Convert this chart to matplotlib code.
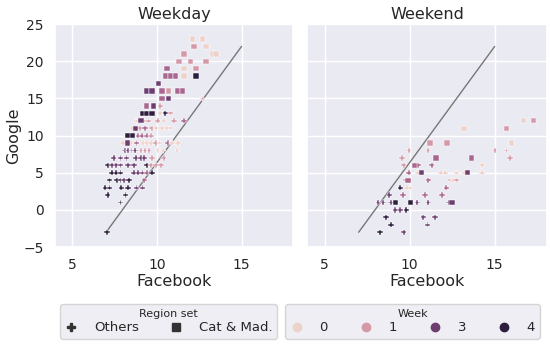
import numpy as np
import matplotlib
matplotlib.use("Agg")
from matplotlib import pyplot as plt
from matplotlib.lines import Line2D
import seaborn as sns

sns.set_theme(style="darkgrid")
plt.rcParams['font.family'] = ['DejaVu Sans']

# Weekday panel: Facebook vs Google, week number, region set
wd_fb = [12.1, 12.7, 12.2, 12.9, 11.6, 13.3, 13.5, 11.3, 12.0, 12.9,
         10.6, 11.6, 12.3, 10.5, 10.8, 11.1, 11.6, 12.3, 10.1,
         9.4, 9.7, 10.3, 10.7, 11.2, 11.5, 10.3, 10.7, 12.7,
         9.4, 9.8, 10.2, 9.15, 9.4, 9.7, 10.2, 10.5, 10.8,
         8.8, 9.05, 9.2, 9.5, 10.05, 10.4, 11.0, 11.6,
         8.55, 8.75, 9.0, 9.3, 9.7, 9.95, 10.3, 10.6, 10.8,
         8.3, 8.55, 8.9, 9.1, 9.4, 9.65,
         8.0, 8.25, 8.45, 8.8, 9.2, 9.4, 9.65, 9.95, 10.15, 10.65, 10.9, 11.25,
         8.1, 8.3, 8.5, 8.7, 9.05, 9.3, 9.55, 10.05, 10.35, 11.2,
         7.45, 7.85, 8.2, 8.75, 9.05, 9.25, 9.7, 10.4,
         7.1, 7.35, 7.6, 7.85, 8.3, 8.65, 9.4, 9.65, 9.95, 10.25,
         7.35, 7.6, 7.85, 8.65, 8.9, 9.15, 9.4, 9.7,
         7.2, 7.65, 7.85, 8.05, 8.35, 9.25,
         6.95, 7.2, 7.9, 8.3, 8.8, 9.15,
         7.1, 8.15, 7.85, 7.05]
wd_google = [23, 23, 22, 22, 21, 21, 21, 20, 20, 20,
             19, 19, 19, 18, 18, 18, 18, 18, 17,
             16, 16, 16, 16, 16, 16, 15, 15, 15,
             14, 14, 14, 13, 13, 13, 13, 13, 13,
             12, 12, 12, 12, 12, 12, 12, 12,
             11, 11, 11, 11, 11, 11, 11, 11, 11,
             10, 10, 10, 10, 10, 10,
             9, 9, 9, 9, 9, 9, 9, 9, 9, 9, 9, 9,
             8, 8, 8, 8, 8, 8, 8, 8, 8, 8,
             7, 7, 7, 7, 7, 7, 7, 7,
             6, 6, 6, 6, 6, 6, 6, 6, 6, 6,
             5, 5, 5, 5, 5, 5, 5, 5,
             4, 4, 4, 4, 4, 4,
             3, 3, 3, 3, 3, 3,
             2, 2, 1, -3]
wd_week = [0, 0, 1, 0, 1, 0, 0, 1, 1, 1,
           2, 0, 1, 2, 2, 2, 0, 4, 3,
           3, 3, 2, 1, 2, 2, 2, 3, 1,
           2, 3, 1, 4, 4, 4, 0, 4, 1,
           0, 3, 1, 1, 1, 0, 1, 2,
           0, 3, 1, 2, 1, 0, 0, 0, 0,
           4, 4, 2, 2, 2, 1,
           0, 3, 0, 2, 0, 0, 0, 1, 0, 2, 0, 0,
           3, 3, 2, 3, 1, 1, 1, 0, 0, 0,
           3, 3, 3, 3, 3, 3, 1, 1,
           4, 3, 3, 3, 3, 3, 4, 1, 1, 1,
           4, 4, 4, 3, 3, 3, 2, 4,
           4, 4, 4, 3, 4, 2,
           4, 4, 4, 4, 3, 3,
           4, 4, 4, 4]
wd_region = (["Cat & Mad."] * 27 + ["Others"] +
             ["Cat & Mad."] * 2 + ["Others"] +
             ["Cat & Mad."] * 3 + ["Others"] * 3 +
             ["Others", "Cat & Mad."] + ["Others"] * 6 +
             ["Others", "Cat & Mad."] + ["Others"] * 7 +
             ["Cat & Mad."] * 2 + ["Others"] * 4 +
             ["Others", "Cat & Mad."] + ["Others"] * 10 +
             ["Others"] * 10 + ["Others"] * 8 + ["Others"] * 10 +
             ["Others"] * 8 + ["Others"] * 6 + ["Others"] * 6 +
             ["Others"] * 4)

# Weekend panel
we_fb = [16.7, 17.3, 13.2, 15.7, 11.2, 12.2, 16.0,
         9.95, 11.1, 15.0, 15.7,
         9.55, 11.55, 13.65, 15.9,
         9.65, 10.3, 10.5, 11.3, 14.25,
         9.95, 10.5, 10.7, 11.85, 12.1, 12.75, 13.25, 13.4, 14.25,
         9.75, 9.9, 11.1, 12.4, 12.55, 12.75,
         9.45, 9.85, 10.05, 12.15,
         8.8, 9.6, 10.9, 11.9,
         8.15, 8.45, 8.9, 9.15, 10.05, 10.45, 11.1, 12.3, 12.5,
         9.15, 9.45, 9.8,
         8.6, 10.8, 11.5,
         8.9, 11.05,
         8.25, 9.65]
we_google = [12, 12, 11, 11, 9, 9, 9,
             8, 8, 8, 8,
             7, 7, 7, 7,
             6, 6, 6, 6, 6,
             5, 5, 5, 5, 5, 5, 5, 5, 5,
             4, 4, 4, 4, 4, 4,
             3, 3, 3, 3,
             2, 2, 2, 2,
             1, 1, 1, 1, 1, 1, 1, 1, 1,
             0, 0, 0,
             -1, -1, -1,
             -2, -2,
             -3, -3]
we_week = [0, 1, 0, 1, 1, 1, 0,
           1, 1, 1, 1,
           1, 2, 2, 1,
           1, 2, 2, 2, 0,
           2, 0, 3, 0, 0, 0, 0, 3, 0,
           1, 2, 2, 1, 0, 1,
           4, 0, 0, 2,
           3, 2, 2, 2,
           3, 3, 3, 4, 4, 3, 3, 3, 3,
           3, 3, 4,
           4, 3, 3,
           4, 3,
           4, 3]
we_region = (["Cat & Mad."] * 7 + ["Others"] * 4 +
             ["Others", "Cat & Mad.", "Cat & Mad.", "Others"] +
             ["Others", "Cat & Mad.", "Others", "Others", "Others"] +
             ["Others", "Others", "Cat & Mad.", "Others", "Others", "Others", "Others", "Cat & Mad.", "Others"] +
             ["Others", "Cat & Mad.", "Others", "Others", "Others", "Others"] +
             ["Others"] * 4 + ["Others"] * 4 +
             ["Others", "Others", "Others", "Cat & Mad.", "Cat & Mad.", "Others", "Others", "Others", "Cat & Mad."] +
             ["Others"] * 3 + ["Others"] * 3 + ["Others"] * 2 + ["Others"] * 2)

diag_x = [7, 15]
diag_y = [-3, 22]
legend_weeks = [0, 1, 3, 4]

cmap = sns.cubehelix_palette(as_cmap=True)
norm = matplotlib.colors.Normalize(0, 4)
markers = {"Others": "P", "Cat & Mad.": "s"}

fig = plt.figure(figsize=(5.5, 3.5), dpi=100)
ax1 = fig.add_axes([0.1, 0.294, 0.433, 0.637])
ax2 = fig.add_axes([0.5587, 0.294, 0.435, 0.637], sharex=ax1, sharey=ax1)

panels = [(ax1, "Weekday", wd_fb, wd_google, wd_week, wd_region),
          (ax2, "Weekend", we_fb, we_google, we_week, we_region)]
for ax, title, fb, gg, wk, rg in panels:
    fb = np.array(fb); gg = np.array(gg); wk = np.array(wk); rg = np.array(rg)
    ax.plot(diag_x, diag_y, color="#777777", lw=1, zorder=1)
    for reg, m in markers.items():
        sel = rg == reg
        ax.scatter(fb[sel], gg[sel], c=cmap(norm(wk[sel])), marker=m, s=15,
                   edgecolors="white", linewidths=0.35, zorder=2)
    ax.set_title(title, fontsize=11.5, pad=4)
    ax.set_xlabel("Facebook", fontsize=11.5, labelpad=1)
    ax.tick_params(labelsize=10, pad=2)

ax1.set_xlim(3.98, 18.05)
ax1.set_ylim(-5, 25)
ax1.set_xticks([5, 10, 15])
ax1.set_yticks([-5, 0, 5, 10, 15, 20, 25])
ax1.set_ylabel("Google", fontsize=11.5, labelpad=2)
plt.setp(ax2.get_yticklabels(), visible=False)

leg_kw = dict(loc="upper center", fontsize=9.5, title_fontsize=8, frameon=True,
              handlelength=1.0, handletextpad=1.24, borderpad=0.35,
              labelspacing=0.2, borderaxespad=0)
reg_handles = [Line2D([], [], ls="", marker=m, color="#333333", markersize=6)
               for m in markers.values()]
leg1 = fig.legend(reg_handles, list(markers.keys()), title="Region set", ncol=2,
                  bbox_to_anchor=(168.5 / 550, 1 - 304 / 350),
                  columnspacing=2.3, **leg_kw)
wk_handles = [Line2D([], [], ls="", marker="o", color=cmap(norm(w)), markersize=6)
              for w in legend_weeks]
leg2 = fig.legend(wk_handles, [str(w) for w in legend_weeks], title="Week", ncol=4,
                  bbox_to_anchor=(412.5 / 550, 1 - 304 / 350),
                  columnspacing=2.35, **leg_kw)

plt.savefig("out.png", dpi=100)
